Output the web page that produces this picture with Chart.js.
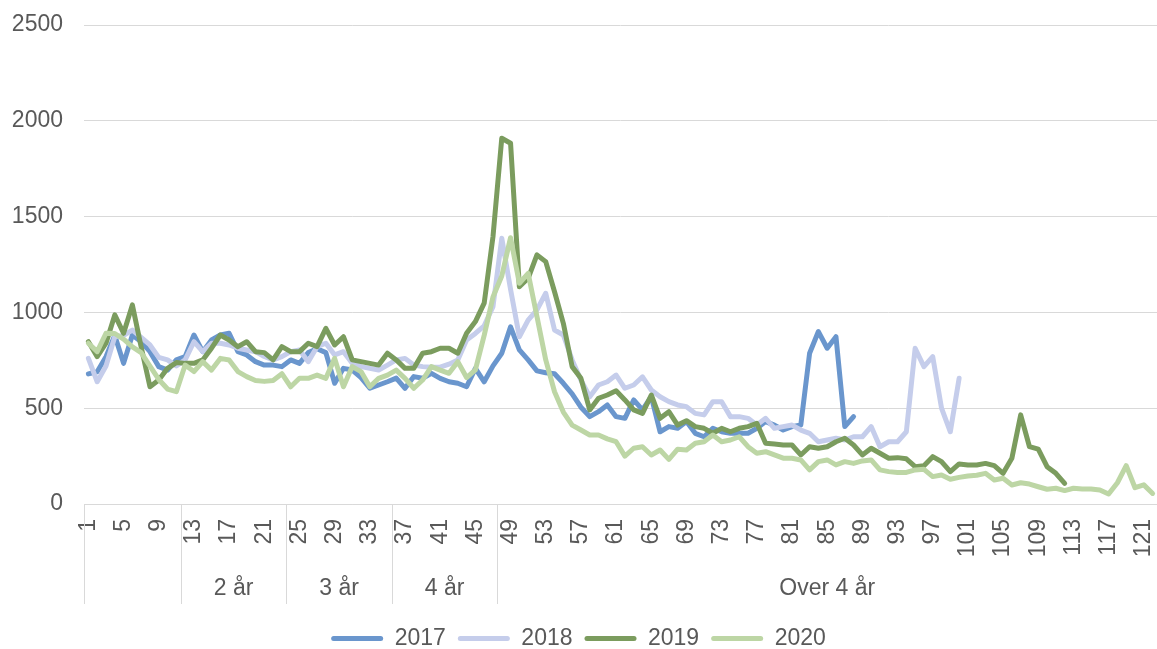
<!DOCTYPE html>
<html><head><meta charset="utf-8">
<script src="https://cdn.jsdelivr.net/npm/chart.js@4.4.0/dist/chart.umd.min.js"></script>
<style>html,body{margin:0;padding:0;background:#fff;overflow:hidden;} canvas{display:block;}</style>
</head><body>
<canvas id="c" width="1157" height="660"></canvas>
<script>
const categories = ['1','2','3','4','5','6','7','8','9','10','11','12','13','14','15','16','17','18','19','20',
'21','22','23','24','25','26','27','28','29','30','31','32','33','34','35','36','37','38','39','40',
'41','42','43','44','45','46','47','48','49','50','51','52','53','54','55','56','57','58','59','60',
'61','62','63','64','65','66','67','68','69','70','71','72','73','74','75','76','77','78','79','80',
'81','82','83','84','85','86','87','88','89','90','91','92','93','94','95','96','97','98','99','100',
'101','102','103','104','105','106','107','108','109','110','111','112','113','114','115','116','117','118','119','120',
'121','122'];

const tickLabels = ['1','5','9','13','17','21','25','29','33','37','41','45','49','53','57','61','65','69','73','77',
'81','85','89','93','97','101','105','109','113','117','121'];

const groupLabels = ['', '2 år', '3 år', '4 år', 'Over 4 år'];
const groupStart = ['1', '12', '24', '36', '48'];

const yTicks = [0, 500, 1000, 1500, 2000, 2500];

const s2017 = [679,690,769,880,734,882,847,795,717,699,752,769,882,795,856,882,891,795,778,743,
725,725,717,752,734,790,810,790,630,708,699,660,604,621,638,657,604,665,656,682,
656,638,630,612,708,638,721,787,925,804,752,695,685,680,630,575,505,456,482,517,
456,447,543,491,560,377,404,395,430,369,351,395,377,369,369,369,395,430,412,386,
404,412,787,900,813,873,404,456];

const s2018 = [760,638,720,873,880,908,870,830,765,752,720,752,847,795,839,839,830,813,804,795,
770,752,769,795,804,743,821,839,778,795,734,717,708,699,725,752,760,725,717,714,
714,730,752,856,890,930,1030,1387,1120,873,960,1013,1100,908,882,752,647,560,621,638,
673,604,621,664,595,560,534,517,508,473,465,534,534,456,456,447,412,447,395,404,
412,386,369,325,334,343,334,351,351,404,299,325,325,377,813,717,769,500,377,656];

const s2019 = [847,769,839,987,891,1039,820,612,647,708,738,734,734,752,813,882,856,821,847,795,
790,752,821,795,795,839,821,917,830,873,752,743,734,725,787,752,708,708,787,795,
813,813,787,891,952,1048,1395,1909,1883,1134,1178,1300,1265,1108,943,717,656,491,552,569,
591,543,491,473,569,447,482,412,435,404,395,369,395,377,395,404,421,317,313,308,
308,256,299,291,299,325,343,308,256,291,265,239,242,236,195,200,247,221,169,209,
204,204,212,200,160,239,465,299,286,195,160,108];

const s2020 = [839,795,891,890,860,820,790,720,650,600,586,725,691,743,699,760,752,691,665,645,
640,645,680,612,656,656,673,656,760,612,717,691,612,656,673,699,656,604,647,717,
699,682,743,660,700,880,1080,1190,1390,1152,1204,978,752,586,480,412,386,360,360,340,
325,250,291,299,256,282,233,286,282,317,325,360,325,334,351,299,265,273,256,239,
239,230,178,221,230,204,221,212,225,230,178,169,165,165,178,181,143,151,129,139,
146,150,160,125,134,99,111,104,90,77,82,70,82,78,78,73,52,111,200,85,
100,55];

const seriesNames = ['2017','2018','2019','2020'];
const seriesData = [s2017, s2018, s2019, s2020];
const seriesColors = ['#6a96cd', '#c5cdeb', '#7b9c5e', '#bdd6a5'];

const FONT = '"Liberation Sans", Arial, sans-serif';
const FS = 23;
const TXT = '#595959';
const GRID = '#d9d9d9';

const groupPlugin = {
  id: 'groups',
  afterDraw(chart) {
    const xs = chart.scales.x;
    const ctx = chart.ctx;
    const bounds = groupStart.map(c => {
      const i = categories.indexOf(c);
      return i === 0 ? xs.left : (xs.getPixelForValue(i - 1) + xs.getPixelForValue(i)) / 2;
    });
    bounds.push(xs.right);
    ctx.save();
    ctx.strokeStyle = GRID;
    ctx.lineWidth = 1;
    for (let k = 0; k < bounds.length - 1; k++) {
      const x = Math.round(bounds[k]) + 0.5;
      ctx.beginPath();
      ctx.moveTo(x, xs.top);
      ctx.lineTo(x, xs.top + 100);
      ctx.stroke();
    }
    ctx.fillStyle = TXT;
    ctx.font = FS + 'px ' + FONT;
    ctx.textAlign = 'center';
    ctx.textBaseline = 'middle';
    groupLabels.forEach((g, k) => {
      if (g) ctx.fillText(g, (bounds[k] + bounds[k + 1]) / 2, xs.top + 85);
    });
    ctx.restore();
  }
};

new Chart(document.getElementById('c'), {
  type: 'line',
  data: {
    labels: categories,
    datasets: seriesNames.map((n, i) => ({
      label: n,
      data: seriesData[i],
      borderColor: seriesColors[i],
      backgroundColor: seriesColors[i],
      borderWidth: 5,
      pointRadius: 0,
      pointHoverRadius: 0,
      tension: 0,
      borderJoinStyle: 'round',
      borderCapStyle: 'round',
      order: 4 - i
    }))
  },
  options: {
    responsive: false,
    devicePixelRatio: 1,
    animation: false,
    layout: { padding: { left: 0, right: 0, top: 25, bottom: 0 } },
    plugins: {
      tooltip: { enabled: false },
      legend: {
        position: 'bottom',
        labels: {
          color: TXT,
          font: { family: FONT, size: FS },
          boxWidth: 52,
          boxHeight: 5,
          useBorderRadius: true,
          borderRadius: 2.5,
          padding: 12,
          sort: (a, b) => a.datasetIndex - b.datasetIndex,
          generateLabels: (chart) => {
            const items = Chart.defaults.plugins.legend.labels.generateLabels(chart);
            items.forEach(it => { it.lineWidth = 0; it.fillStyle = seriesColors[it.datasetIndex]; });
            return items;
          }
        }
      }
    },
    scales: {
      x: {
        type: 'category',
        offset: true,
        grid: { display: true, drawOnChartArea: false, drawTicks: false },
        border: { display: true, color: GRID, width: 1 },
        ticks: {
          autoSkip: false,
          minRotation: 90,
          maxRotation: 90,
          padding: 15,
          color: TXT,
          font: { family: FONT, size: FS },
          callback: function (v, i) {
            const l = categories[i];
            return tickLabels.includes(l) ? l : '';
          }
        },
        afterFit: (s) => { s.height = 111; s.paddingLeft = 0; s.paddingRight = 0; }
      },
      y: {
        min: 0,
        max: 2500,
        afterBuildTicks: (s) => { s.ticks = yTicks.map(v => ({ value: v })); },
        grid: { color: GRID, lineWidth: 1, drawTicks: false },
        border: { display: false },
        ticks: {
          padding: 21,
          color: TXT,
          font: { family: FONT, size: FS },
          callback: (v) => String(v)
        },
        afterFit: (s) => { s.width = 84; s.paddingTop = 0; s.paddingBottom = 0; }
      }
    }
  },
  plugins: [groupPlugin]
});
</script>
</body></html>
